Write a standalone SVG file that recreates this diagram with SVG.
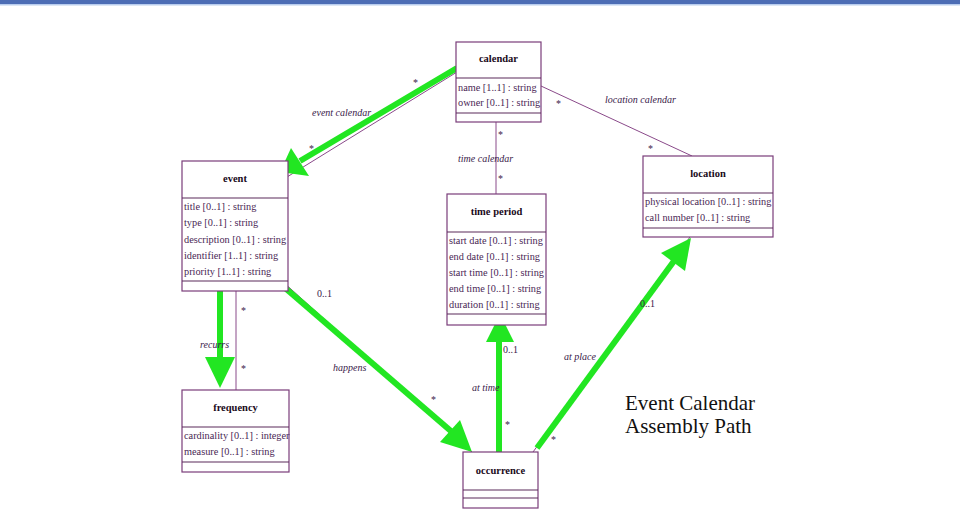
<svg xmlns="http://www.w3.org/2000/svg" width="960" height="517" viewBox="0 0 960 517">
<style>
.box{fill:#fff;stroke:#7a3d7a;stroke-width:1.2}
.sep{stroke:#5a2a5a;stroke-width:1.2}
.title{font-family:"Liberation Serif",serif;font-weight:bold;font-size:10.5px;fill:#1a0a1a;text-anchor:middle}
.attr{font-family:"Liberation Serif",serif;font-size:10.3px;fill:#4a1f55}
.lbl{font-family:"Liberation Serif",serif;font-style:italic;font-size:10px;fill:#3a1a4a}
.mult{font-family:"Liberation Serif",serif;font-size:10px;fill:#3a1a4a}
.assoc{stroke:#8a4a8a;stroke-width:1;fill:none}
.shaft{stroke:#22e622;stroke-width:6;fill:none}
.head{fill:#22e622}
.big{font-family:"Liberation Serif",serif;font-size:21px;fill:#111}
</style>
<rect x="0" y="0" width="960" height="517" fill="#fff"/>
<rect x="0" y="0" width="960" height="4" fill="#4d6db5"/>
<rect x="0" y="4" width="960" height="1.5" fill="#b9cdee"/>

<g id="connectors">
<line class="assoc" x1="457" y1="72" x2="287" y2="177"/>
<line class="assoc" x1="541" y1="86" x2="692" y2="156"/>
<line class="assoc" x1="496" y1="122" x2="496" y2="194"/>
<line class="assoc" x1="236" y1="291" x2="236" y2="390"/>
<line class="assoc" x1="282" y1="281" x2="472" y2="452"/>
<line class="assoc" x1="500" y1="452" x2="500" y2="325"/>
<line class="assoc" x1="533" y1="452" x2="690" y2="237"/>

<line class="shaft" x1="457" y1="68" x2="300" y2="161"/>
<polygon class="head" points="280,172 291,148 309,176"/>
<line class="shaft" x1="220" y1="288" x2="220" y2="359"/>
<polygon class="head" points="205,357 235,357 220,388"/>
<line class="shaft" x1="277" y1="281" x2="452" y2="432"/>
<polygon class="head" points="460,420 440,442 472,452"/>
<line class="shaft" x1="499" y1="452" x2="499" y2="340"/>
<polygon class="head" points="486,342 514,342 500,314"/>
<line class="shaft" x1="537" y1="448" x2="674" y2="261"/>
<polygon class="head" points="685,271 661,253 691,238"/>

<text class="mult" x="413" y="86">*</text>
<text class="lbl" x="312" y="116">event calendar</text>
<text class="mult" x="309" y="152">*</text>
<text class="mult" x="556" y="107">*</text>
<text class="lbl" x="605" y="103">location calendar</text>
<text class="mult" x="648" y="152">*</text>
<text class="mult" x="498" y="138">*</text>
<text class="lbl" x="458" y="162">time calendar</text>
<text class="mult" x="498" y="182">*</text>
<text class="mult" x="241" y="314">*</text>
<text class="lbl" x="200" y="348">recurrs</text>
<text class="mult" x="241" y="372">*</text>
<text class="mult" x="317" y="297">0..1</text>
<text class="lbl" x="333" y="371">happens</text>
<text class="mult" x="431" y="403">*</text>
<text class="mult" x="503" y="353">0..1</text>
<text class="lbl" x="472" y="391">at time</text>
<text class="mult" x="505" y="428">*</text>
<text class="mult" x="640" y="307">0..1</text>
<text class="lbl" x="564" y="360">at place</text>
<text class="mult" x="551" y="443">*</text>
</g>

<g id="calendar">
<rect class="box" x="456" y="42" width="85" height="80"/>
<line class="sep" x1="456" y1="78" x2="541" y2="78"/>
<line class="sep" x1="456" y1="113" x2="541" y2="113"/>
<text class="title" x="498.5" y="62">calendar</text>
<text class="attr" x="458" y="91">name [1..1] : string</text>
<text class="attr" x="458" y="106">owner [0..1] : string</text>
</g>

<g id="event">
<rect class="box" x="182" y="161" width="106" height="130"/>
<line class="sep" x1="182" y1="198" x2="288" y2="198"/>
<line class="sep" x1="182" y1="281" x2="288" y2="281"/>
<text class="title" x="235" y="182">event</text>
<text class="attr" x="184" y="210">title [0..1] : string</text>
<text class="attr" x="184" y="226">type [0..1] : string</text>
<text class="attr" x="184" y="243">description [0..1] : string</text>
<text class="attr" x="184" y="259">identifier [1..1] : string</text>
<text class="attr" x="184" y="275">priority [1..1] : string</text>
</g>

<g id="time-period">
<rect class="box" x="447" y="194" width="99" height="131"/>
<line class="sep" x1="447" y1="232" x2="546" y2="232"/>
<line class="sep" x1="447" y1="314" x2="546" y2="314"/>
<text class="title" x="496.5" y="215">time period</text>
<text class="attr" x="449" y="244">start date [0..1] : string</text>
<text class="attr" x="449" y="260">end date [0..1] : string</text>
<text class="attr" x="449" y="276">start time [0..1] : string</text>
<text class="attr" x="449" y="292">end time [0..1] : string</text>
<text class="attr" x="449" y="308">duration [0..1] : string</text>
</g>

<g id="location">
<rect class="box" x="643" y="156" width="130" height="81"/>
<line class="sep" x1="643" y1="193" x2="773" y2="193"/>
<line class="sep" x1="643" y1="228" x2="773" y2="228"/>
<text class="title" x="708" y="177">location</text>
<text class="attr" x="645" y="205">physical location [0..1] : string</text>
<text class="attr" x="645" y="221">call number [0..1] : string</text>
</g>

<g id="frequency">
<rect class="box" x="182" y="390" width="107" height="82"/>
<line class="sep" x1="182" y1="427" x2="289" y2="427"/>
<line class="sep" x1="182" y1="462" x2="289" y2="462"/>
<text class="title" x="235.5" y="411">frequency</text>
<text class="attr" x="184" y="439">cardinality [0..1] : integer</text>
<text class="attr" x="184" y="455">measure [0..1] : string</text>
</g>

<g id="occurrence">
<rect class="box" x="463" y="452" width="75" height="56"/>
<line class="sep" x1="463" y1="490" x2="538" y2="490"/>
<line class="sep" x1="463" y1="498" x2="538" y2="498"/>
<text class="title" x="500.5" y="474">occurrence</text>
</g>

<g id="caption">
<text class="big" x="625" y="410">Event Calendar</text>
<text class="big" x="625" y="433">Assembly Path</text>
</g>
</svg>
